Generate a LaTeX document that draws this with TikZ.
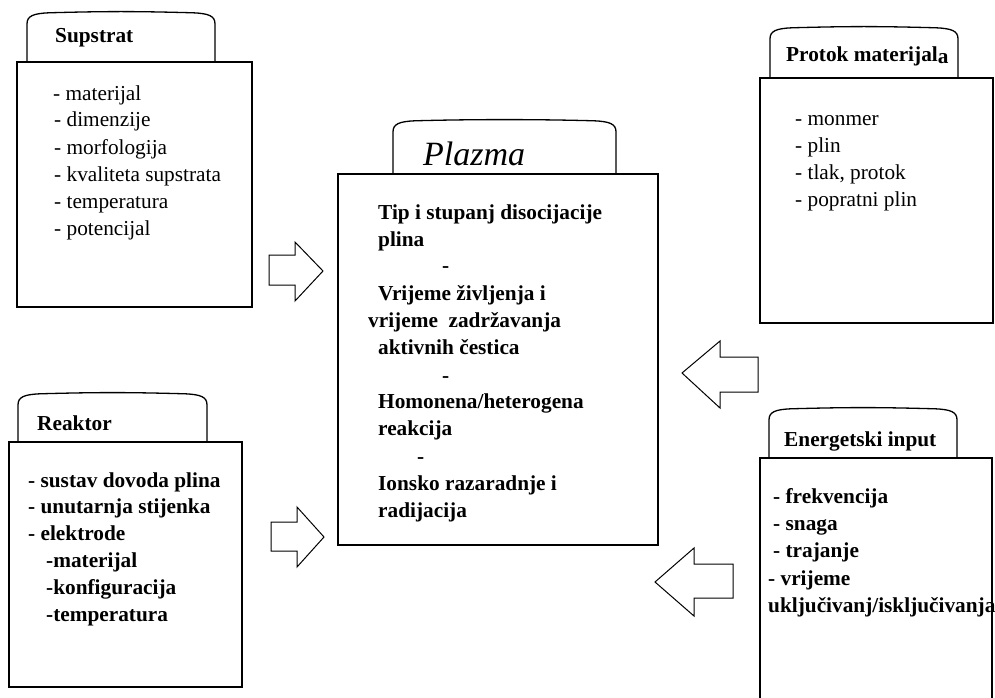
\documentclass[tikz,border=0pt]{standalone}
\usepackage{fontspec}
\setmainfont{Liberation Serif}
\newcommand\mytab[4]{% left, right, top, bottom
  \draw[frame] (#1,#4) -- (#1,#3+12) .. controls (#1,#3+4) and (#1+6,#3+1.5) .. (#1+22,#3+0.8)
    .. controls (#1+80,#3-0.8) and (#2-80,#3-0.8) .. (#2-22,#3+0.8)
    .. controls (#2-6,#3+1.5) and (#2,#3+4) .. (#2,#3+12) -- (#2,#4);}
\begin{document}
\begin{tikzpicture}[x=1pt,y=-1pt,
  frame/.style={draw=black, line width=1.3pt, fill=white},
  blk/.style={draw=black, line width=1pt, fill=white, line join=miter},
  txt/.style={anchor=base west, inner sep=0pt, font=\fontsize{21.3}{25}\selectfont},
  btxt/.style={anchor=base west, inner sep=0pt, font=\fontsize{21.3}{25}\selectfont\bfseries}]
\useasboundingbox (0,0) rectangle (995,698);
\fill[white] (0,0) rectangle (995,698);

% ---------- Supstrat ----------
\mytab{27}{215}{12}{62}
\draw[frame] (17,62) rectangle (252,307);
\node[btxt] (st) at (55,43) {Supstrat};
\node[txt] (s1) at (53,101) {- materijal};
\node[txt] (s2) at (54,127) {- dimenzije};
\node[txt] (s3) at (54,154) {- morfologija};
\node[txt] (s4) at (54,181) {- kvaliteta supstrata};
\node[txt] (s5) at (54,208) {- temperatura};
\node[txt] (s6) at (54,235) {- potencijal};

% ---------- Plazma ----------
\mytab{393}{616}{120}{174}
\draw[frame] (338,174) rectangle (658,545);
\node[anchor=base west, inner sep=0pt, font=\fontsize{34}{36}\selectfont\itshape] (pt) at (423,165) {Plazma};
\node[btxt] (p1) at (378,219) {Tip i stupanj disocijacije};
\node[btxt] (p2) at (378,246) {plina};
\node[btxt] (p3) at (442,272) {-};
\node[btxt] (p4) at (378,300) {Vrijeme življenja i};
\node[btxt] (p5) at (368,327) {vrijeme\ \ zadržavanja};
\node[btxt] (p6) at (378,354) {aktivnih čestica};
\node[btxt] (p7) at (442,382) {-};
\node[btxt] (p8) at (378,408) {Homonena/heterogena};
\node[btxt] (p9) at (378,435) {reakcija};
\node[btxt] (p10) at (417,463) {-};
\node[btxt] (p11) at (378,490) {Ionsko razaradnje i};
\node[btxt] (p12) at (378,517) {radijacija};

% ---------- Protok materijala ----------
\mytab{770}{958}{27}{78}
\draw[frame] (760,78) rectangle (993,323);
\node[btxt] (mt) at (786,62) {Protok materijal\raisebox{-2pt}{a}};
\node[txt] (m1) at (795,125) {- monmer};
\node[txt] (m2) at (795,152) {- plin};
\node[txt] (m3) at (795,179) {- tlak, protok};
\node[txt] (m4) at (795,206) {- popratni plin};

% ---------- Energetski input ----------
\mytab{769}{957}{408}{458}
\fill[white] (760,458) rectangle (992,700);
\draw[line width=1.3pt] (760,702) -- (760,458) -- (992,458) -- (992,702);
\node[btxt] (et) at (784,446) {Energetski input};
\node[btxt] (e1) at (773,503) {- frekvencija};
\node[btxt] (e2) at (773,530) {- snaga};
\node[btxt] (e3) at (773,557) {- trajanje};
\node[btxt] (e4) at (768,585) {- vrijeme};
\node[btxt] (e5) at (768,612) {uključivanj/isključivanja};

% ---------- Reaktor ----------
\mytab{18}{207}{393}{442}
\draw[frame] (9,442) rectangle (242,687);
\node[btxt] (rt) at (37,430) {Reaktor};
\node[btxt] (r1) at (28,487) {- sustav dovoda plina};
\node[btxt] (r2) at (28,513) {- unutarnja stijenka};
\node[btxt] (r3) at (28,540) {- elektrode};
\node[btxt] (r4) at (46,567) {-materijal};
\node[btxt] (r5) at (46,594) {-konfiguracija};
\node[btxt] (r6) at (46,621) {-temperatura};

% ---------- block arrows ----------
\draw[blk] (269,255) -- (295,255) -- (295,242) -- (323,271) -- (295,301) -- (295,285) -- (269,285) -- cycle;
\draw[blk] (271,522) -- (297,522) -- (297,507) -- (324,537) -- (297,567) -- (297,551) -- (271,551) -- cycle;
\draw[blk] (758,357) -- (720,357) -- (720,341) -- (682,373) -- (720,408) -- (720,392) -- (758,392) -- cycle;
\draw[blk] (733,564) -- (694,564) -- (694,548) -- (655,582) -- (694,616) -- (694,598) -- (733,598) -- cycle;
\end{tikzpicture}
\end{document}
